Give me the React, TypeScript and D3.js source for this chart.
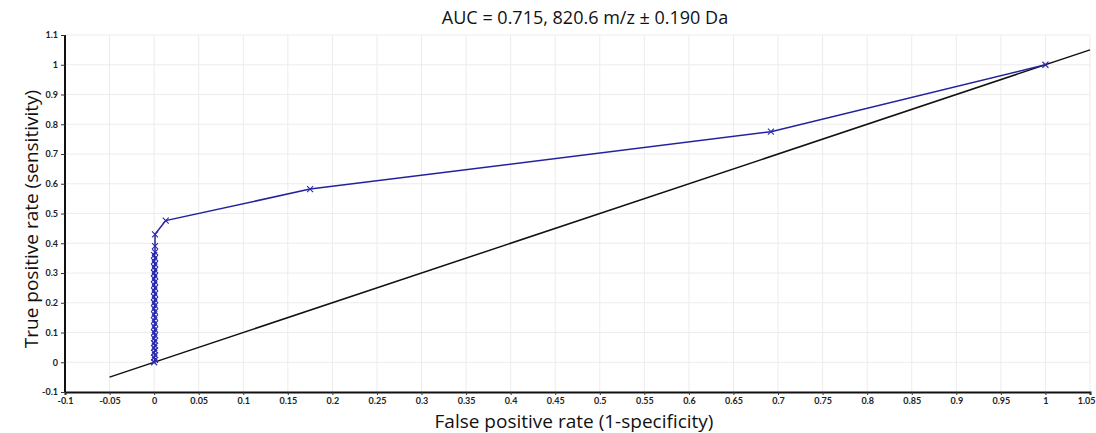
import React, { useEffect, useRef } from "react";
import * as d3 from "d3";

const title = "AUC = 0.715, 820.6 m/z ± 0.190 Da";
const xLabel = "False positive rate (1-specificity)";
const yLabel = "True positive rate (sensitivity)";

const xTicks = [-0.1, -0.05, 0, 0.05, 0.1, 0.15, 0.2, 0.25, 0.3, 0.35, 0.4, 0.45, 0.5, 0.55, 0.6, 0.65, 0.7, 0.75, 0.8, 0.85, 0.9, 0.95, 1, 1.05];
const yTicks = [-0.1, 0, 0.1, 0.2, 0.3, 0.4, 0.5, 0.6, 0.7, 0.8, 0.9, 1, 1.1];

// ROC curve points (false positive rate, true positive rate)
const fpr = [
  0, 0.001, 0, 0.001, 0, 0.001, 0, 0.001, 0, 0.001, 0, 0.001, 0, 0.001, 0, 0.001,
  0, 0.001, 0, 0.001, 0, 0.001, 0, 0.001, 0, 0.001, 0, 0.001, 0, 0.001, 0, 0.001,
  0, 0.001, 0, 0.001, 0, 0.001, 0, 0.001, 0.001, 0.001, 0.013, 0.175, 0.692, 1,
];
const tpr = [
  0, 0.008, 0.016, 0.024, 0.032, 0.04, 0.048, 0.056, 0.064, 0.072, 0.08, 0.09, 0.1, 0.11, 0.12, 0.13,
  0.14, 0.15, 0.16, 0.17, 0.18, 0.19, 0.2, 0.21, 0.22, 0.23, 0.24, 0.25, 0.26, 0.27, 0.28, 0.29,
  0.3, 0.31, 0.32, 0.33, 0.34, 0.35, 0.36, 0.37, 0.39, 0.43, 0.476, 0.582, 0.775, 1,
];
// chance diagonal
const diag = [-0.05, 1.05];

const W = 1096;
const H = 433;

export default function App() {
  const ref = useRef<SVGSVGElement>(null);

  useEffect(() => {
    const svg = d3.select(ref.current);
    svg.selectAll("*").remove();

    const x = d3.scaleLinear().domain([-0.1, 1.05]).range([65, 1090]);
    const y = d3.scaleLinear().domain([-0.1, 1.1]).range([392, 35]);

    // grid
    const grid = svg.append("g").attr("stroke", "#ececec").attr("stroke-width", 1);
    grid.selectAll("line.v").data(xTicks.slice(1)).enter().append("line")
      .attr("x1", (d) => x(d)).attr("x2", (d) => x(d))
      .attr("y1", y(1.1)).attr("y2", y(-0.1));
    grid.selectAll("line.h").data(yTicks.slice(1)).enter().append("line")
      .attr("x1", x(-0.1)).attr("x2", x(1.05))
      .attr("y1", (d) => y(d)).attr("y2", (d) => y(d));

    // axes
    const xAxis = d3.axisBottom(x).tickValues(xTicks).tickSize(3)
      .tickFormat((d) => String(+d));
    const yAxis = d3.axisLeft(y).tickValues(yTicks).tickSize(4)
      .tickFormat((d) => String(+d));

    const gx = svg.append("g").attr("transform", `translate(0,${y(-0.1)})`).call(xAxis);
    const gy = svg.append("g").attr("transform", `translate(${x(-0.1)},0)`).call(yAxis);
    [gx, gy].forEach((g) => {
      g.select(".domain").attr("stroke", "#111").attr("stroke-width", 2);
      g.selectAll(".tick line").attr("stroke", "#333");
      g.selectAll("text").attr("font-family", "Lato, sans-serif").attr("font-size", 9)
        .attr("font-weight", 700).attr("fill", "#222");
    });
    gy.select(".domain").attr("d", `M0,${y(1.1)}V${y(-0.1)}`);
    // keep the last x label inside the picture
    gx.selectAll<SVGTextElement, number>("text")
      .filter((d) => d === xTicks[xTicks.length - 1])
      .attr("text-anchor", "end").attr("dx", 5);

    // diagonal
    svg.append("line")
      .attr("x1", x(diag[0])).attr("y1", y(diag[0]))
      .attr("x2", x(diag[1])).attr("y2", y(diag[1]))
      .attr("stroke", "#111").attr("stroke-width", 1.5);

    // ROC curve
    const pts = fpr.map((f, i) => [f, tpr[i]] as [number, number]);
    const line = d3.line<[number, number]>().x((d) => x(d[0])).y((d) => y(d[1]));
    svg.append("path").attr("d", line(pts)).attr("fill", "none")
      .attr("stroke", "#22229e").attr("stroke-width", 1.5);

    const s = 3;
    svg.append("g").selectAll("path").data(pts).enter().append("path")
      .attr("d", (d) => {
        const cx = x(d[0]), cy = y(d[1]);
        return `M${cx - s},${cy - s}L${cx + s},${cy + s}M${cx - s},${cy + s}L${cx + s},${cy - s}`;
      })
      .attr("stroke", "#2a2ab0").attr("stroke-width", 1.1).attr("fill", "none");

    // titles
    svg.append("text").attr("x", 585).attr("y", 24).attr("text-anchor", "middle")
      .attr("font-family", "'Open Sans', sans-serif").attr("font-size", 18).attr("fill", "#111")
      .text(title);
    svg.append("text").attr("x", 574).attr("y", 428).attr("text-anchor", "middle")
      .attr("font-family", "'Open Sans', sans-serif").attr("font-size", 19).attr("fill", "#111")
      .text(xLabel);
    svg.append("text").attr("transform", `translate(38,${219}) rotate(-90)`)
      .attr("text-anchor", "middle")
      .attr("font-family", "'Open Sans', sans-serif").attr("font-size", 19).attr("fill", "#111")
      .text(yLabel);
  }, []);

  return (
    <svg ref={ref} width={W} height={H}
      style={{ position: "absolute", left: 0, top: 0, background: "#fff" }} />
  );
}
